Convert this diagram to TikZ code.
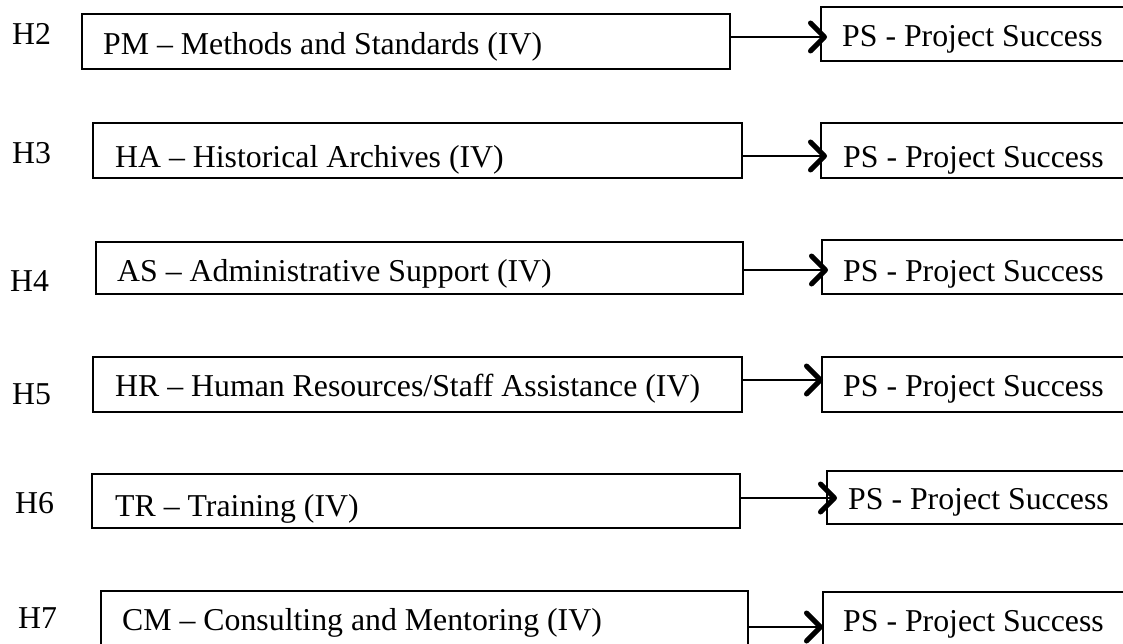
\documentclass[tikz,border=0pt]{standalone}
\usepackage{fontspec}
\setmainfont{Liberation Serif}
\usetikzlibrary{arrows.meta}
\begin{document}
\begin{tikzpicture}[x=1pt,y=-1pt,
  box/.style={draw, line width=1.8pt, inner sep=0pt, outer sep=0pt, anchor=north west},
  txt/.style={inner sep=0pt, anchor=base west, font=\fontsize{31.8pt}{38pt}\selectfont},
  flow/.style={line width=1.9pt, -{Straight Barb[length=14pt,width=28pt,line width=5pt,round]}}]
\useasboundingbox (0,0) rectangle (1123,644);
\clip (0,0) rectangle (1123,644);

% H2
\node[txt] (h2) at (12,45) {H2};
\node[box, minimum width=648pt, minimum height=55pt] (l2) at (82,14) {};
\node[txt] (t2) at (103,55) {PM – Methods and Standards (IV)};
\node[box, minimum width=400pt, minimum height=54pt] (r2) at (821,7) {};
\node[txt] (s2) at (842,47) {PS - Project Success};
\draw[flow, shorten >=-6pt] (l2.east |- 0,37) -- (r2.west |- 0,37);

% H3
\node[txt] (h3) at (12,164) {H3};
\node[box, minimum width=649pt, minimum height=55pt] (l3) at (93,123) {};
\node[txt] (t3) at (115,168) {HA – Historical Archives (IV)};
\node[box, minimum width=400pt, minimum height=55pt] (r3) at (821,123) {};
\node[txt] (s3) at (843,168) {PS - Project Success};
\draw[flow, shorten >=-6pt] (l3.east |- 0,156) -- (r3.west |- 0,156);

% H4
\node[txt] (h4) at (10,291) {H4};
\node[box, minimum width=647pt, minimum height=52pt] (l4) at (96,242) {};
\node[txt] (t4) at (117,281) {AS – Administrative Support (IV)};
\node[box, minimum width=400pt, minimum height=54pt] (r4) at (822,240) {};
\node[txt] (s4) at (843,281) {PS - Project Success};
\draw[flow, shorten >=-6pt] (l4.east |- 0,270) -- (r4.west |- 0,270);

% H5
\node[txt] (h5) at (12,404) {H5};
\node[box, minimum width=649pt, minimum height=55pt] (l5) at (93,357) {};
\node[txt] (t5) at (115,396) {HR – Human Resources/Staff Assistance (IV)};
\node[box, minimum width=400pt, minimum height=55pt] (r5) at (822,357) {};
\node[txt] (s5) at (843,396) {PS - Project Success};
\draw[flow, shorten >=-1pt] (l5.east |- 0,380) -- (r5.west |- 0,380);

% H6
\node[txt] (h6) at (15,513) {H6};
\node[box, minimum width=648pt, minimum height=54pt] (l6) at (92,474) {};
\node[txt] (t6) at (115,516) {TR – Training (IV)};
\node[box, minimum width=400pt, minimum height=53pt] (r6) at (827,471) {};
\node[txt] (s6) at (848,509) {PS - Project Success};
\draw[flow, shorten >=-10pt] (l6.east |- 0,498) -- (r6.west |- 0,498);

% H7
\node[txt] (h7) at (18,628) {H7};
\node[box, minimum width=647pt, minimum height=120pt] (l7) at (101,591) {};
\node[txt] (t7) at (122,630) {CM – Consulting and Mentoring (IV)};
\node[box, minimum width=400pt, minimum height=120pt] (r7) at (823,592) {};
\node[txt] (s7) at (843,631) {PS - Project Success};
\draw[flow, shorten >=0pt] (l7.east |- 0,627) -- (r7.west |- 0,627);
\end{tikzpicture}
\end{document}
